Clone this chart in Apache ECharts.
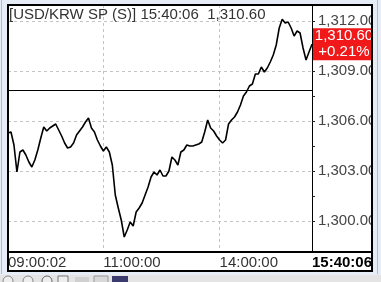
<!DOCTYPE html>
<html><head><meta charset="utf-8">
<script src="https://cdn.jsdelivr.net/npm/echarts@6/dist/echarts.min.js"></script>
<style>html,body{margin:0;padding:0;background:#fff}#c{width:381px;height:282px}</style>
</head><body><div id="c"></div>
<script>
const titleText = '[USD/KRW SP (S)] 15:40:06  1,310.60';
const prices = [
 1305.28,1305.34,1304.56,1302.94,1304.14,1304.26,1303.96,1303.54,1303.24,1303.66,
 1304.26,1304.98,1305.64,1305.40,1305.58,1305.70,1305.82,1305.46,1305.10,1304.68,
 1304.38,1304.44,1304.68,1305.16,1305.40,1305.64,1305.94,1306.18,1305.58,1305.34,
 1304.86,1304.50,1304.20,1304.44,1304.14,1303.36,1301.56,1300.78,1300.06,1299.04,
 1299.46,1299.94,1299.70,1300.54,1300.78,1301.08,1301.56,1302.04,1302.64,1302.94,
 1302.76,1303.06,1302.70,1302.70,1303.00,1303.84,1303.66,1303.36,1304.14,1304.26,
 1304.56,1304.50,1304.50,1304.56,1304.62,1304.74,1305.34,1306.06,1305.58,1305.40,
 1305.10,1304.86,1304.68,1304.86,1305.82,1306.06,1306.24,1306.54,1306.96,1307.50,
 1307.74,1308.10,1308.22,1308.82,1308.82,1309.24,1308.94,1309.18,1309.54,1309.96,
 1310.56,1311.58,1312.10,1311.88,1311.94,1311.58,1311.10,1311.40,1311.28,1310.38,
 1309.66,1310.14,1310.60
];
const timeTickIndex = [0, 32, 71, 102];
const timeTickLabels = ['09:00:02', '11:00:00', '14:00:00', '15:40:06'];
const timeGridIndex = [32, 71];
const priceLabelValues = [1300, 1303, 1306, 1309, 1312];
const priceTickValues = [1300, 1301.5, 1303, 1304.5, 1306, 1307.5, 1309, 1310.5, 1312];
const prevClose = 1307.855;
const lastPriceText = '1,310.60';
const changeText = '+0.21%';
const yMin = 1298.14, yMax = 1312.96;

const FONT = 'Liberation Sans, Arial, sans-serif';
function fmtPrice(v) {
  const s = v.toFixed(2);
  const [a, b] = s.split('.');
  return a.replace(/\B(?=(\d{3})+(?!\d))/g, ',') + '.' + b;
}
const categories = prices.map((_, i) => i);

const chart = echarts.init(document.getElementById('c'), null, {renderer: 'canvas'});
const frame = '#e6edf7';
chart.setOption({
  animation: false,
  backgroundColor: '#fff',
  title: {
    text: titleText, left: 9, top: 7, padding: 0,
    textStyle: {fontFamily: FONT, fontSize: 15, fontWeight: 'normal', color: '#333'}
  },
  grid: {left: 8, right: 69, top: 5, bottom: 30, containLabel: false},
  xAxis: {
    type: 'category', data: categories, boundaryGap: false,
    axisLine: {show: true, lineStyle: {color: '#000', width: 2}},
    axisTick: {show: false},
    axisLabel: {
      interval: (i) => timeTickIndex.indexOf(i) >= 0,
      align: 'left', margin: 3,
      fontFamily: FONT, fontSize: 15, color: '#333',
      formatter: (v, i) => {
        const k = timeTickIndex.indexOf(Number(v));
        if (k < 0) return '';
        return k === timeTickLabels.length - 1 ? '{b|' + timeTickLabels[k] + '}' : timeTickLabels[k];
      },
      rich: {b: {fontFamily: FONT, fontSize: 15, fontWeight: 'bold', color: '#000'}}
    },
    splitLine: {
      show: true, interval: (i) => timeGridIndex.indexOf(i) >= 0,
      lineStyle: {color: '#c4c4c4', width: 1, type: [3, 3]}
    }
  },
  yAxis: [{
    type: 'value', position: 'right', min: yMin, max: yMax,
    axisLine: {show: true, lineStyle: {color: '#000', width: 1}},
    axisTick: {show: true, customValues: priceTickValues, length: 3, inside: false, lineStyle: {color: '#222'}},
    axisLabel: {
      customValues: priceLabelValues, margin: 6,
      fontFamily: FONT, fontSize: 15, color: '#444',
      formatter: (v) => fmtPrice(v)
    },
    splitLine: {show: false}
  }, {
    type: 'value', position: 'left', min: yMin, max: yMax,
    axisLine: {show: false},
    axisTick: {show: false, customValues: priceLabelValues},
    axisLabel: {show: false, customValues: priceLabelValues},
    splitLine: {show: true, lineStyle: {color: '#c4c4c4', width: 1, type: [3, 3]}}
  }],
  series: [{
    type: 'line', data: prices, yAxisIndex: 0,
    showSymbol: false, symbol: 'none',
    lineStyle: {color: '#000', width: 1.6},
    z: 3,
    endLabel: {
      show: true, distance: 1,
      formatter: () => '{a|' + lastPriceText + '}\n{a|' + changeText + '}',
      backgroundColor: '#f01818', padding: 0,
      rich: {a: {width: 62, align: 'center', color: '#fff', fontFamily: FONT, fontSize: 15, lineHeight: 16}}
    },
    markLine: {
      silent: true, symbol: 'none', label: {show: false},
      lineStyle: {color: '#000', width: 1, type: 'solid'},
      data: [{yAxis: prevClose}]
    }
  }],
  graphic: [
    {type: 'line', z: 50, shape: {x1: 312, y1: 252, x2: 372, y2: 252}, style: {stroke: '#000', lineWidth: 2}},
    {type: 'rect', z: 100, shape: {x: 0, y: 0, width: 7, height: 282}, style: {fill: frame}},
    {type: 'rect', z: 100, shape: {x: 0, y: 0, width: 381, height: 4}, style: {fill: frame}},
    {type: 'rect', z: 100, shape: {x: 373, y: 0, width: 8, height: 282}, style: {fill: frame}},
    {type: 'rect', z: 100, shape: {x: 0, y: 272, width: 381, height: 10}, style: {fill: frame}},
    {type: 'rect', z: 101, shape: {x: 1, y: 0, width: 1, height: 274}, style: {fill: '#a6bde0'}},
    {type: 'rect', z: 101, shape: {x: 377, y: 0, width: 1, height: 274}, style: {fill: '#a6bde0'}},
    {type: 'rect', z: 101, shape: {x: 0, y: 275, width: 381, height: 7}, style: {fill: '#e4e4e4'}},
    {type: 'circle', z: 102, shape: {cx: 8, cy: 281, r: 5}, style: {fill: '#eee', stroke: '#888', lineWidth: 1}},
    {type: 'circle', z: 102, shape: {cx: 28, cy: 281, r: 5}, style: {fill: '#eee', stroke: '#888', lineWidth: 1}},
    {type: 'circle', z: 102, shape: {cx: 47, cy: 281, r: 5}, style: {fill: '#eee', stroke: '#666', lineWidth: 1}},
    {type: 'rect', z: 102, shape: {x: 58, y: 276, width: 10, height: 8}, style: {fill: '#eee', stroke: '#777', lineWidth: 1}},
    {type: 'rect', z: 102, shape: {x: 75, y: 277, width: 14, height: 7}, style: {fill: '#d0d0d0'}},
    {type: 'rect', z: 102, shape: {x: 94, y: 276, width: 14, height: 8}, style: {fill: '#d8d8d8', stroke: '#999', lineWidth: 1}},
    {type: 'rect', z: 102, shape: {x: 112, y: 276, width: 16, height: 8}, style: {fill: '#3a3a6e'}},
    {type: 'rect', z: 103, shape: {x: 8, y: 5, width: 364, height: 266}, style: {fill: null, stroke: '#000', lineWidth: 2}}
  ]
});
</script></body></html>
